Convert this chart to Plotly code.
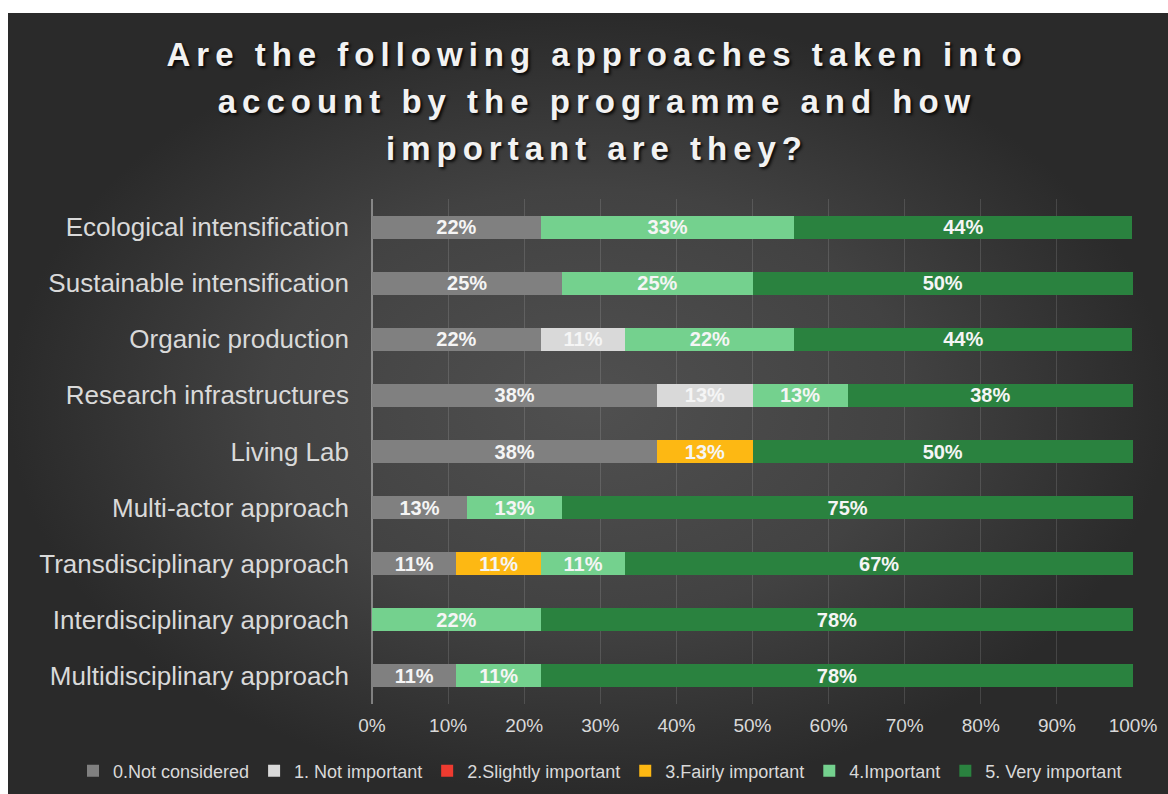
import plotly.graph_objects as go

categories = [
    "Ecological intensification",
    "Sustainable intensification",
    "Organic production",
    "Research infrastructures",
    "Living Lab",
    "Multi-actor approach",
    "Transdisciplinary approach",
    "Interdisciplinary approach",
    "Multidisciplinary approach",
]

series_names = [
    "0.Not considered",
    "1. Not important",
    "2.Slightly important",
    "3.Fairly important",
    "4.Important",
    "5. Very important",
]

not_considered = [22.2, 25.0, 22.2, 37.5, 37.5, 12.5, 11.1, 0.0, 11.1]
not_important = [0.0, 0.0, 11.1, 12.5, 0.0, 0.0, 0.0, 0.0, 0.0]
slightly_important = [0.0, 0.0, 0.0, 0.0, 0.0, 0.0, 0.0, 0.0, 0.0]
fairly_important = [0.0, 0.0, 0.0, 0.0, 12.5, 0.0, 11.1, 0.0, 0.0]
important = [33.3, 25.0, 22.2, 12.5, 0.0, 12.5, 11.1, 22.2, 11.1]
very_important = [44.4, 50.0, 44.4, 37.5, 50.0, 75.0, 66.7, 77.8, 77.8]

series_values = [not_considered, not_important, slightly_important,
                 fairly_important, important, very_important]
series_colors = ["#808080", "#d9d9d9", "#ee3b30", "#fdb813", "#74d18e", "#2a823f"]

x_ticks = [0, 10, 20, 30, 40, 50, 60, 70, 80, 90, 100]

title_lines = [
    "Are the following approaches taken into",
    "account by the programme and how",
    "important are they?",
]

W, H = 1168, 794
FONT = "Liberation Sans, Arial, sans-serif"

fig = go.Figure()

# radial gradient background panel (drawn on a hidden full-page axis)
fig.add_trace(go.Scatter(
    x=[8, W, W, 8], y=[0, 0, H - 13, H - 13],
    fill="toself", mode="lines", line=dict(width=0),
    fillgradient=dict(type="radial",
                      colorscale=[[0, "#505050"], [0.55, "#424242"], [1, "#2a2a2a"]]),
    hoverinfo="skip", showlegend=False, xaxis="x", yaxis="y",
))

def fmt(v):
    return f"{int(v + 0.5)}%" if v > 0 else ""

for name, vals, col in zip(series_names, series_values, series_colors):
    fig.add_trace(go.Bar(
        name=name, y=categories, x=vals, orientation="h",
        marker=dict(color=col, line=dict(width=0)),
        text=[fmt(v) for v in vals],
        textposition="inside", insidetextanchor="middle", textangle=0,
        constraintext="none",
        textfont=dict(family=FONT, size=20, color="#f5f5f5", weight="bold"),
        xaxis="x2", yaxis="y2", hoverinfo="skip",
    ))

ls = "letter-spacing:6px;font-size:33px"
title_text = "<br>".join(f"<span style='{ls}'>{t}</span>" for t in title_lines)

fig.update_layout(
    width=W, height=H,
    margin=dict(l=0, r=0, t=0, b=0, autoexpand=False),
    paper_bgcolor="white", plot_bgcolor="rgba(0,0,0,0)",
    barmode="stack", bargap=0.59,
    title=dict(text=title_text, x=597 / W, xanchor="center",
               y=1 - 66 / H, yanchor="top",
               font=dict(family=FONT, size=36, color="#f2f2f2", weight="bold",
                         shadow="2px 2px 3px rgba(0,0,0,0.85)")),
    xaxis=dict(domain=[0, 1], range=[0, W], visible=False, fixedrange=True),
    yaxis=dict(domain=[0, 1], range=[0, H], visible=False, fixedrange=True),
    xaxis2=dict(domain=[372 / W, 1133 / W], anchor="y2", range=[0, 100],
                tickvals=x_ticks, ticktext=[f"{t}%" for t in x_ticks],
                showgrid=True, gridcolor="rgba(255,255,255,0.13)", gridwidth=1,
                zeroline=True, zerolinecolor="rgba(255,255,255,0.38)", zerolinewidth=1.5,
                showline=False, ticks="", ticklabelstandoff=8, automargin=False,
                tickfont=dict(family=FONT, size=19, color="#d9d9d9")),
    yaxis2=dict(domain=[1 - 704 / H, 1 - 199 / H], anchor="x2",
                autorange="reversed", showgrid=False, showline=False, ticks="",
                ticklabelstandoff=22, automargin=False,
                tickfont=dict(family=FONT, size=26, color="#d9d9d9")),
    legend=dict(orientation="h", x=600 / W, xanchor="center",
                y=1 - 771 / H, yanchor="middle", itemwidth=30,
                traceorder="normal", bgcolor="rgba(0,0,0,0)",
                font=dict(family=FONT, size=18, color="#d9d9d9")),
    showlegend=True,
)

fig.write_html("out.html", config={"displayModeBar": False})
